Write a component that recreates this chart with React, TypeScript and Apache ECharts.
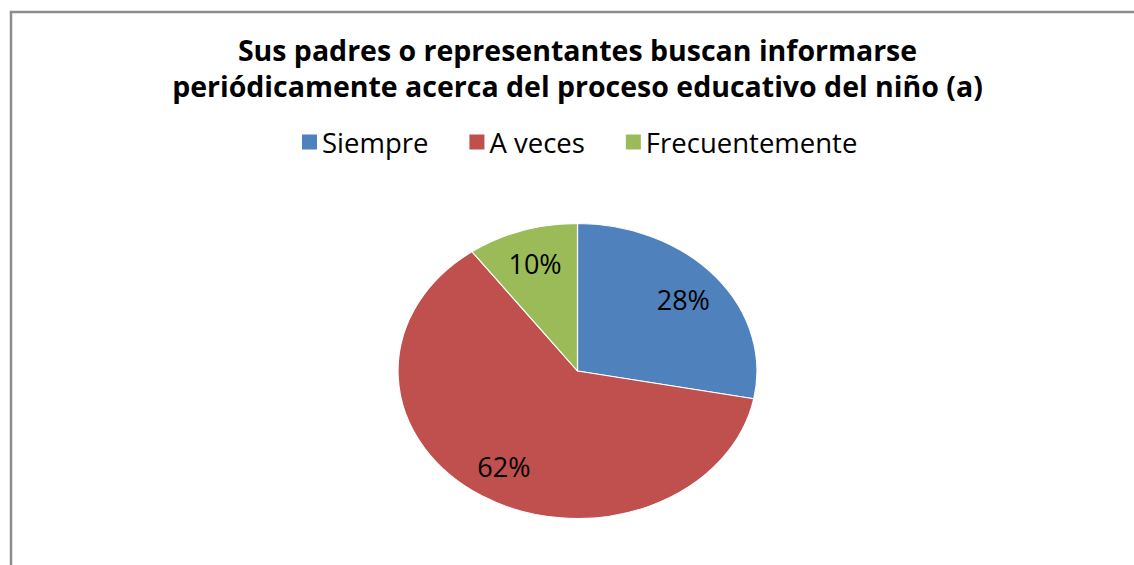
import React, { useEffect, useRef } from "react";
import * as echarts from "echarts";

const titleLines = [
  "Sus padres o representantes buscan informarse",
  "periódicamente acerca del proceso educativo del niño (a)",
];
const categories = ["Siempre", "A veces", "Frecuentemente"];
const values = [28, 62, 10];
const colors = ["#4F81BD", "#C0504D", "#9BBB59"];

const W = 1134;
const H = 565;
const CX = 577.5;
const CY = 371;
const RY = 147.5;
const RX = 179.5;
const K = RX / RY;
const LABEL_F = 1.47;
const FONT = "'Open Sans', 'DejaVu Sans', sans-serif";

export default function App() {
  const pieRef = useRef<HTMLDivElement>(null);
  const topRef = useRef<HTMLDivElement>(null);

  useEffect(() => {
    const pie = echarts.init(pieRef.current!, null, { renderer: "svg" });
    pie.setOption({
      animation: false,
      series: [
        {
          type: "pie",
          center: [CX, CY],
          radius: RY,
          startAngle: 90,
          clockwise: true,
          silent: true,
          data: categories.map((n, i) => ({
            name: n,
            value: values[i],
            itemStyle: { color: colors[i] },
          })),
          itemStyle: { borderColor: "#ffffff", borderWidth: 1 },
          label: { show: false },
          labelLine: { show: false },
          emphasis: { disabled: true },
        },
      ],
    });

    const top = echarts.init(topRef.current!, null, { renderer: "svg" });
    top.setOption({
      animation: false,
      backgroundColor: "transparent",
      title: {
        text: titleLines.join("\n"),
        left: "center",
        top: 32,
        padding: 0,
        textStyle: {
          fontFamily: FONT,
          fontWeight: "bold",
          fontSize: 28.5,
          lineHeight: 36,
          color: "#000000",
        },
      },
      legend: {
        top: 128,
        left: 302,
        padding: 0,
        icon: "rect",
        itemWidth: 15,
        itemHeight: 15,
        itemGap: 41,
        selectedMode: false,
        textStyle: { fontFamily: FONT, fontSize: 27.5, color: "#000000" },
        data: categories.map((n, i) => ({
          name: n,
          itemStyle: { color: colors[i], opacity: 1, borderWidth: 0 },
        })),
      },
      graphic: [
        {
          type: "polyline",
          silent: true,
          shape: {
            points: [
              [11, H + 5],
              [11, 12],
              [W + 30, 12],
            ],
          },
          style: { stroke: "#8c8c8c", lineWidth: 2.5, fill: "none" },
        },
      ],
      series: [
        {
          type: "pie",
          center: [CX, CY],
          radius: RY,
          startAngle: 90,
          clockwise: true,
          silent: true,
          data: categories.map((n, i) => ({
            name: n,
            value: values[i],
            itemStyle: { color: "rgba(0,0,0,0)" },
          })),
          itemStyle: { borderWidth: 0 },
          label: {
            show: true,
            position: "inside",
            formatter: (p: any) => `${Math.round(p.percent)}%`,
            fontFamily: FONT,
            fontSize: 27,
            color: "#000000",
          },
          labelLine: { show: false },
          emphasis: { disabled: true },
          labelLayout: (p: any) => {
            const r = p.labelRect;
            const cx0 = r.x + r.width / 2;
            const cy0 = r.y + r.height / 2;
            return {
              x: CX + (cx0 - CX) * LABEL_F * K,
              y: CY + (cy0 - CY) * LABEL_F,
              align: "center",
              verticalAlign: "middle",
            };
          },
        },
      ],
    });

    return () => {
      pie.dispose();
      top.dispose();
    };
  }, []);

  return (
    <div
      style={{
        position: "fixed",
        left: 0,
        top: 0,
        width: W,
        height: H,
        overflow: "hidden",
        background: "#ffffff",
      }}
    >
      <div
        ref={pieRef}
        style={{
          position: "absolute",
          left: 0,
          top: 0,
          width: W,
          height: H,
          transform: `scaleX(${K})`,
          transformOrigin: `${CX}px 0px`,
        }}
      />
      <div
        ref={topRef}
        style={{
          position: "absolute",
          left: 0,
          top: 0,
          width: 2 * CX,
          height: H,
        }}
      />
    </div>
  );
}
